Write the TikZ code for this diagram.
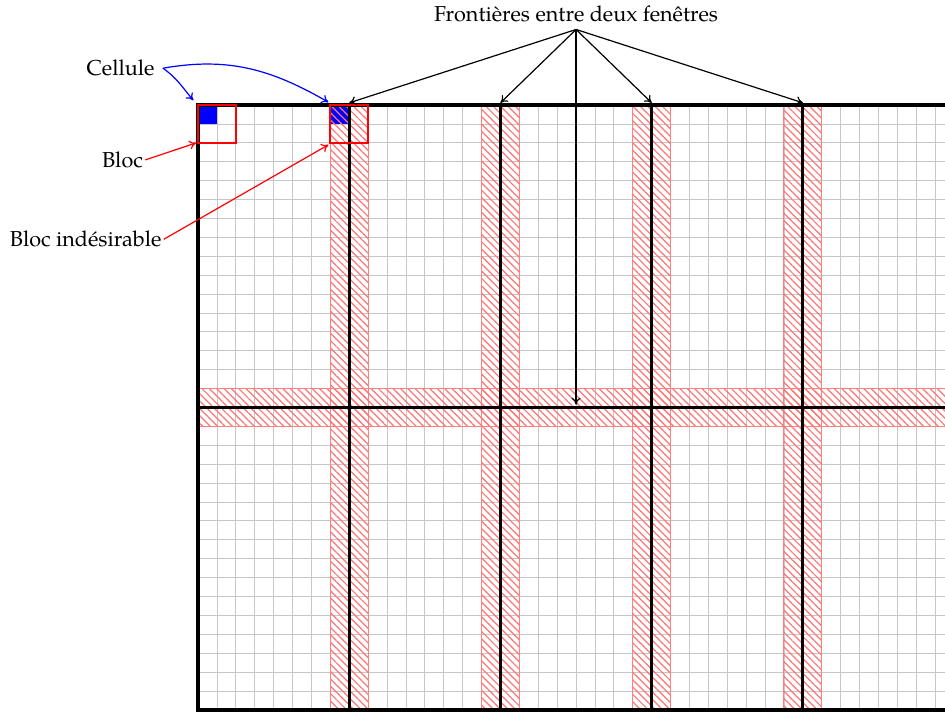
\documentclass[tikz,border=0pt]{standalone}
\usepackage{fontspec}
\setmainfont{TeX Gyre Pagella}
\usetikzlibrary{patterns.meta,arrows.meta}
\tikzset{
  gridline/.style={draw=gray!45, line width=0.4pt},
  hatchband/.style={pattern={Lines[angle=-45,distance=2.6pt,line width=0.6pt]}, pattern color=red!55},
  bandedge/.style={draw=red!50, line width=0.5pt},
  winline/.style={line width=1.6pt, black},
  frameline/.style={line width=2pt, black},
  blockbox/.style={draw=red, line width=1.1pt},
  bluecell/.style={fill=blue},
  blackarrow/.style={-{To[length=3.5pt,width=4.5pt]}, line width=0.6pt, black},
  bluearrow/.style={-{To[length=3.5pt,width=4.5pt]}, line width=0.6pt, blue},
  redarrow/.style={-{To[length=3.5pt,width=4.5pt]}, line width=0.6pt, red},
  lab/.style={font=\fontsize{10.8}{13}\selectfont, inner sep=1pt}
}
\begin{document}
\begin{tikzpicture}[x=9.45pt, y=-9.45pt]
\useasboundingbox (-10.48,-5.56) rectangle (39.52,32.33);
% grid
\foreach \i in {1,...,39}{ \draw[gridline] (\i,0) -- (\i,32); }
\foreach \j in {1,...,31}{ \draw[gridline] (0,\j) -- (39.6,\j); }
% blue cells
\fill[bluecell] (0,0) rectangle (1,1);
\fill[bluecell] (7,0) rectangle (8,1);
% hatched bands
\foreach \x in {8,16,24,32}{
  \fill[hatchband] (\x-1,0) rectangle (\x+1,32);
  \draw[bandedge] (\x-1,0) rectangle (\x+1,32);
}
\fill[hatchband] (0,15) rectangle (39.6,17);
\draw[bandedge] (0,15) -- (39.6,15) (0,17) -- (39.6,17);
% window borders
\foreach \x in {8,16,24,32}{
  \draw[winline] (\x,0) -- (\x,32);
}
\draw[winline] (0,16) -- (39.6,16);
% frame
\draw[frameline] (39.6,0) -- (0,0) -- (0,32) -- (39.6,32);
% blocks
\draw[blockbox] (0,0) rectangle (2,2);
\draw[blockbox] (7,0) rectangle (9,2);
% labels
\node[lab] (front) at (20,-4.85) {Frontières entre deux fenêtres};
\coordinate (src) at (20,-4.0);
\coordinate (t1) at (8,-0.12);
\coordinate (t2) at (16,-0.12);
\coordinate (t3) at (24,-0.12);
\coordinate (t4) at (32,-0.12);
\coordinate (t5) at (20,15.85);
\foreach \t in {t1,t2,t3,t4,t5}{
  \draw[blackarrow] (src) -- (\t);
}
\node[lab] (cell) at (-4.1,-1.95) {Cellule};
\coordinate (cs) at ([xshift=3pt]cell.east);
\coordinate (c1) at (-0.25,-0.25);
\coordinate (c2) at (6.9,-0.15);
\draw[bluearrow] (cs) to[out=-35,in=130] (c1);
\draw[bluearrow] (cs) to[out=10,in=150] (c2);
\node[lab] (bloc) at (-4.0,2.9) {Bloc};
\coordinate (b1) at (-0.1,2.0);
\draw[redarrow] (bloc.east) -- (b1);
\node[lab] (bind) at (-5.95,7.1) {Bloc indésirable};
\coordinate (b2) at (6.9,2.1);
\draw[redarrow] (bind.east) -- (b2);
\end{tikzpicture}
\end{document}
